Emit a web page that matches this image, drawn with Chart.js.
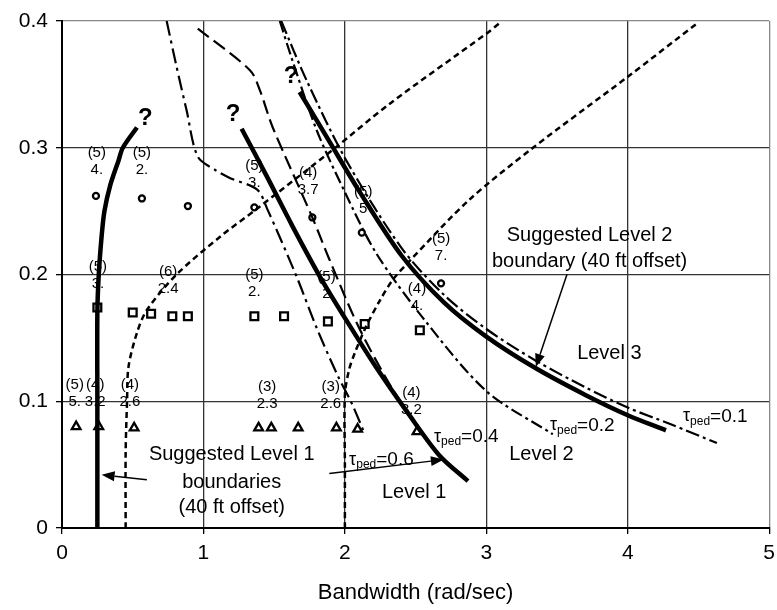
<!DOCTYPE html>
<html>
<head>
<meta charset="utf-8">
<script src="https://cdn.jsdelivr.net/npm/chart.js@4.4.0/dist/chart.umd.min.js"></script>
<style>
  body { margin: 0; background: #fff; }
  #wrap { width: 777px; height: 610px; position: relative; }
</style>
</head>
<body>
<div id="wrap"><canvas id="bwChart"></canvas></div>
<script>
// suggested level boundaries (thick solid), [bandwidth, value]
var level1Left = [[0.25,0],[0.25,0.1],[0.25,0.17],[0.26,0.2],[0.28,0.23],[0.30,0.25],[0.34,0.27],[0.40,0.29],[0.43,0.30],[0.53,0.316]];
var level1Mid = [[1.27,0.315],[1.45,0.277],[1.63,0.238],[1.82,0.199],[2.01,0.164],[2.22,0.127],[2.45,0.090],[2.67,0.057],[2.87,0.037]];
var level2Bound = [[1.68,0.344],[1.89,0.305],[2.1,0.266],[2.4,0.215],[2.7,0.178],[3.0,0.151],[3.35,0.126],[3.7,0.105],[4.0,0.089],[4.27,0.077]];

// short dashed boundaries
var dottedLow = [[0.45,0],[0.45,0.06],[0.46,0.1],[0.47,0.127],[0.53,0.154],[0.6,0.172],[0.81,0.2],[1.12,0.23],[1.38,0.252],[1.91,0.298],[2.32,0.335],[3.0,0.39],[3.09,0.398]];
var dottedHigh = [[2.0,0],[2.0,0.05],[2.0,0.105],[2.03,0.125],[2.07,0.138],[2.15,0.159],[2.25,0.18],[2.34,0.196],[2.46,0.211],[2.88,0.259],[3.33,0.30],[4.0,0.356],[4.5,0.399]];

// tau_ped contours
var tau06 = [[0.74,0.4],[0.81,0.364],[0.88,0.33],[0.96,0.293],[1.09,0.282],[1.19,0.276],[1.38,0.267],[1.45,0.252],[1.66,0.198],[1.80,0.158],[1.95,0.120],[2.05,0.098],[2.13,0.077]];
var tau04 = [[0.96,0.394],[1.33,0.361],[1.40,0.345],[1.49,0.316],[1.77,0.245],[1.89,0.212],[2.1,0.158],[2.34,0.109],[2.55,0.075]];
var tau02 = [[1.54,0.4],[1.62,0.372],[1.80,0.314],[2.0,0.265],[2.22,0.217],[2.55,0.166],[3.0,0.108],[3.47,0.074]];
var tau01 = [[1.55,0.4],[1.73,0.353],[2.01,0.29],[2.4,0.221],[2.7,0.184],[3.0,0.157],[3.35,0.132],[3.7,0.111],[4.0,0.095],[4.3,0.082],[4.63,0.067]];

// test runs
var circlePts = [[0.24,0.262],[0.565,0.26],[0.89,0.254],[1.36,0.253],[1.77,0.245],[2.12,0.233],[2.68,0.193]];
var squarePts = [[0.25,0.174],[0.50,0.170],[0.63,0.169],[0.78,0.167],[0.89,0.167],[1.36,0.167],[1.57,0.167],[1.88,0.163],[2.14,0.161],[2.53,0.156]];
var trianglePts = [[0.10,0.080],[0.26,0.080],[0.51,0.079],[1.39,0.079],[1.48,0.079],[1.67,0.079],[1.94,0.079],[2.09,0.078],[2.51,0.076]];

// (count) and rating printed over the runs: x, y of upper line, upper, lower
var runLabels = [
  [0.246,0.296,'(5)','4.'], [0.565,0.296,'(5)','2.'], [1.36,0.286,'(5)','3.'],
  [1.74,0.280,'(4)','3.7'], [2.13,0.265,'(5)','5'], [2.68,0.228,'(5)','7.'],
  [0.254,0.206,'(5)','3.'], [0.75,0.202,'(6)','2.4'], [1.36,0.200,'(5)','2.'],
  [1.87,0.198,'(5)','2'], [2.51,0.189,'(4)','4.'],
  [0.09,0.113,'(5)','5.'], [0.235,0.113,'(4)','3.2'], [0.48,0.113,'(4)','2.6'],
  [1.45,0.111,'(3)','2.3'], [1.90,0.111,'(3)','2.6'], [2.47,0.107,'(4)','3.2']
];
var questionMarks = [[0.59,0.323],[1.21,0.326],[1.62,0.356]];
var tauLabels = [[2.03,0.054,'0.6'],[2.63,0.072,'0.4'],[3.45,0.081,'0.2'],[4.39,0.088,'0.1']];
var textNotes = [
  [3.73,0.231,'Suggested Level 2'], [3.73,0.210,'boundary (40 ft offset)'],
  [3.87,0.138,'Level 3'], [3.39,0.058,'Level 2'], [2.49,0.028,'Level 1'],
  [1.2,0.058,'Suggested Level 1'], [1.2,0.036,'boundaries'], [1.2,0.016,'(40 ft offset)']
];
var arrows = [[0.60,0.038,0.28,0.042],[1.89,0.043,2.70,0.054],[3.57,0.200,3.35,0.127]];

var xTicks = [0,1,2,3,4,5];
var yTicks = [0,0.1,0.2,0.3,0.4];

var FONT = '"Liberation Sans", Arial, sans-serif';

function pts(arr) {
  return arr.map(function(p){ return {x: p[0], y: p[1]}; });
}
function curve(arr, width, dash) {
  return {
    data: pts(arr), showLine: true, borderColor: '#000', borderWidth: width,
    borderDash: dash, pointRadius: 0, tension: 0.3, fill: false, order: 1
  };
}
function marks(arr, style, r) {
  return {
    data: pts(arr), showLine: false, pointStyle: style, pointRadius: r,
    pointBorderWidth: 2.3, pointBorderColor: '#000', pointBackgroundColor: '#fff', order: 3
  };
}

var notes = {
  id: 'notes',
  afterDatasetsDraw: function(chart) {
    var ctx = chart.ctx, xs = chart.scales.x, ys = chart.scales.y;
    function px(v){ return xs.getPixelForValue(v); }
    function py(v){ return ys.getPixelForValue(v); }
    ctx.save();
    ctx.fillStyle = '#000';
    ctx.strokeStyle = '#000';
    ctx.textAlign = 'center';
    ctx.textBaseline = 'middle';

    ctx.font = '15px ' + FONT;
    runLabels.forEach(function(l){
      ctx.fillText(l[2], px(l[0]), py(l[1]));
      ctx.fillText(l[3], px(l[0]), py(l[1]) + 17);
    });

    ctx.font = 'bold 24px ' + FONT;
    questionMarks.forEach(function(q){ ctx.fillText('?', px(q[0]), py(q[1])); });

    ctx.font = '20px ' + FONT;
    textNotes.forEach(function(t){ ctx.fillText(t[2], px(t[0]), py(t[1])); });

    // tau_ped = value, with subscript
    ctx.textAlign = 'left';
    tauLabels.forEach(function(t){
      var x = px(t[0]), y = py(t[1]);
      ctx.font = '18px ' + FONT;
      ctx.fillText('\u03c4', x, y);
      x += ctx.measureText('\u03c4').width;
      ctx.font = '12px ' + FONT;
      ctx.fillText('ped', x, y + 5);
      x += ctx.measureText('ped').width;
      ctx.font = '19px ' + FONT;
      ctx.fillText('=' + t[2], x, y);
    });

    ctx.lineWidth = 1.5;
    arrows.forEach(function(a){
      var x0 = px(a[0]), y0 = py(a[1]), x1 = px(a[2]), y1 = py(a[3]);
      var ang = Math.atan2(y1 - y0, x1 - x0), len = 13, hw = 5;
      var bx = x1 - len * Math.cos(ang), by = y1 - len * Math.sin(ang);
      ctx.beginPath();
      ctx.moveTo(x0, y0);
      ctx.lineTo(bx, by);
      ctx.stroke();
      ctx.beginPath();
      ctx.moveTo(x1, y1);
      ctx.lineTo(bx + hw * Math.sin(ang), by - hw * Math.cos(ang));
      ctx.lineTo(bx - hw * Math.sin(ang), by + hw * Math.cos(ang));
      ctx.closePath();
      ctx.fill();
    });
    ctx.restore();
  }
};

new Chart(document.getElementById('bwChart').getContext('2d'), {
  type: 'scatter',
  data: {
    datasets: [
      curve(level1Left, 4.5, []),
      curve(level1Mid, 4.5, []),
      curve(level2Bound, 4.5, []),
      curve(dottedLow, 2.5, [6, 4]),
      curve(dottedHigh, 2.5, [6, 4]),
      curve(tau06, 2.2, [15, 5, 3, 5]),
      curve(tau04, 2.2, [14, 6]),
      curve(tau02, 2.2, [12, 4, 3, 4]),
      curve(tau01, 2.2, [14, 4, 3, 4]),
      marks(circlePts, 'circle', 3),
      marks(squarePts, 'rect', 5.5),
      marks(trianglePts, 'triangle', 5)
    ]
  },
  options: {
    responsive: true,
    maintainAspectRatio: false,
    animation: false,
    layout: { padding: { top: 21, right: 0, left: 0, bottom: 0 } },
    plugins: { legend: { display: false }, tooltip: { enabled: false } },
    scales: {
      x: {
        type: 'linear', min: 0, max: 5,
        afterBuildTicks: function(s){ s.ticks = xTicks.map(function(v){ return {value: v}; }); },
        afterFit: function(s){ s.height = 82; s.paddingRight = 7; },
        ticks: { color: '#000', font: { size: 21, family: FONT }, padding: 7 },
        grid: {
          color: function(c){ return c.tick && c.tick.value === 5 ? '#888' : '#333'; },
          lineWidth: 1.3, tickLength: 6, tickColor: '#000'
        },
        border: { color: '#000', width: 2 },
        title: { display: true, text: 'Bandwidth (rad/sec)', color: '#000',
                 font: { size: 22, family: FONT }, padding: { top: 0, bottom: 4 } }
      },
      y: {
        type: 'linear', min: 0, max: 0.4,
        afterBuildTicks: function(s){ s.ticks = yTicks.map(function(v){ return {value: v}; }); },
        afterFit: function(s){ s.width = 62; },
        ticks: { color: '#000', font: { size: 21, family: FONT }, padding: 8,
                 callback: function(v){ return v === 0 ? '0' : v.toFixed(1); } },
        grid: {
          color: function(c){ return c.tick && c.tick.value === 0.4 ? '#888' : '#333'; },
          lineWidth: 1.3, tickLength: 6, tickColor: '#000'
        },
        border: { color: '#000', width: 2 }
      }
    }
  },
  plugins: [notes]
});
</script>
</body>
</html>
